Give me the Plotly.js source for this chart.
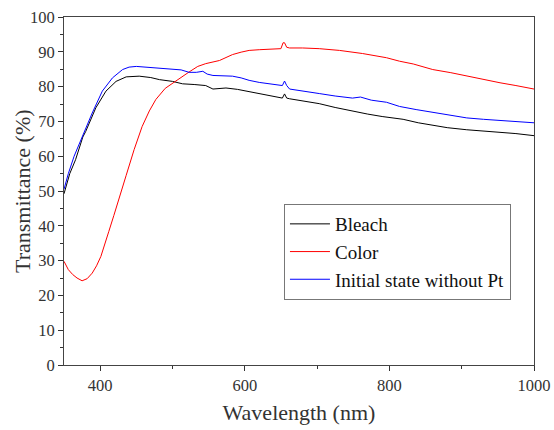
<!DOCTYPE html>
<html>
<head>
<meta charset="utf-8">
<script src="https://cdn.plot.ly/plotly-3.0.1.min.js"></script>
<style>html,body{margin:0;padding:0;background:#fff;}#chart{width:554px;height:430px;}</style>
</head>
<body>
<div id="chart"></div>
<script>
// Bleach (black)
const bleachX = [350, 358, 366, 376, 380, 394, 408, 422, 436, 454, 470, 482, 500, 514, 530, 546, 556, 574, 590, 602, 616, 630, 645, 652, 655, 658, 662, 680, 703, 725, 749, 770, 790, 819, 840, 860, 880, 907, 930, 953, 975, 1000];
const bleachY = [49.2, 55, 59, 65.5, 67.1, 73.9, 78.7, 81.5, 82.8, 83, 82.6, 82, 81.5, 80.8, 80.6, 80.3, 79.3, 79.6, 79.2, 78.7, 78, 77.4, 76.9, 76.7, 77.9, 76.7, 76.5, 75.9, 75.1, 74, 72.9, 72.1, 71.4, 70.6, 69.6, 68.8, 68.2, 67.6, 67.3, 66.9, 66.5, 65.9];

// Color (red)
const colorX = [350, 356, 362, 368, 375, 382, 389, 395, 401, 407, 412, 419, 426, 436, 447, 458, 468, 477, 490, 500, 512, 523, 535, 546, 565, 583, 595, 606, 620, 639, 650, 653, 655, 658, 662, 680, 703, 731, 763, 796, 814, 833, 860, 885, 907, 930, 953, 975, 1000];
const colorY = [29.8, 27.4, 26, 25, 24.2, 24.8, 26.4, 28.5, 31.2, 34.8, 38.4, 43, 47.5, 54.5, 61.9, 68.5, 73, 76.3, 79.5, 81, 82.8, 84.2, 85.8, 86.6, 87.5, 89.2, 89.9, 90.4, 90.6, 90.8, 90.9, 92.6, 92.6, 91.3, 91.1, 91.1, 90.9, 90.4, 89.5, 88.3, 87.3, 86.5, 84.9, 84, 83, 82.1, 81.1, 80.3, 79.3];

// Initial state without Pt (blue)
const initX = [350, 356, 364, 370, 376, 389, 403, 417, 431, 440, 450, 470, 485, 500, 512, 523, 533, 542, 548, 556, 570, 583, 595, 606, 620, 639, 652, 655, 658, 662, 680, 703, 725, 749, 760, 775, 796, 814, 837, 860, 885, 907, 930, 953, 975, 1000];
const initY = [50.5, 55, 60, 63, 65.8, 72.4, 78.7, 82.5, 84.9, 85.6, 85.8, 85.5, 85.3, 85.1, 84.8, 84.1, 84.1, 84.4, 83.6, 83.2, 83.1, 83, 82.5, 81.8, 81.2, 80.6, 80.3, 81.6, 80.3, 79.3, 78.8, 78, 77.3, 76.7, 77, 76.1, 75.5, 74.3, 73.4, 72.6, 71.8, 71, 70.6, 70.2, 69.9, 69.6];

const xTicks = [400, 600, 800, 1000];
const yTicks = [0, 10, 20, 30, 40, 50, 60, 70, 80, 90, 100];

const serif = 'Liberation Serif';

const traces = [
  {x: bleachX, y: bleachY, name: 'Bleach', mode: 'lines', line: {color: '#000000', width: 1}},
  {x: colorX, y: colorY, name: 'Color', mode: 'lines', line: {color: '#ff0000', width: 1}},
  {x: initX, y: initY, name: 'Initial state without Pt', mode: 'lines', line: {color: '#0000ff', width: 1}}
];

const layout = {
  width: 554, height: 430,
  margin: {l: 64, r: 20, t: 17, b: 65},
  paper_bgcolor: '#ffffff', plot_bgcolor: '#ffffff',
  font: {family: serif},
  showlegend: true,
  legend: {
    x: 0.468, y: 0.4626, xanchor: 'left', yanchor: 'top',
    bordercolor: '#777777', borderwidth: 1, bgcolor: '#ffffff',
    font: {family: serif, size: 19, color: '#111111'},
    itemwidth: 40
  },
  xaxis: {
    range: [350, 1000], tickvals: xTicks, ticktext: xTicks.map(String),
    ticks: 'outside', ticklen: 5, tickwidth: 1, tickcolor: '#333',
    minor: {dtick: 100, tick0: 0, ticks: 'outside', ticklen: 3, tickcolor: '#333'},
    showline: true, linecolor: '#444', linewidth: 1, mirror: true,
    showgrid: false, zeroline: false,
    tickfont: {family: serif, size: 16.5, color: '#333'},
    title: {text: 'Wavelength (nm)', font: {family: serif, size: 22, color: '#333'}, standoff: 10}
  },
  yaxis: {
    range: [0, 100], tickvals: yTicks, ticktext: yTicks.map(String),
    ticks: 'outside', ticklen: 5, tickwidth: 1, tickcolor: '#333',
    minor: {dtick: 5, tick0: 0, ticks: 'outside', ticklen: 3, tickcolor: '#333'},
    showline: true, linecolor: '#444', linewidth: 1, mirror: true,
    showgrid: false, zeroline: false,
    tickfont: {family: serif, size: 16.5, color: '#333'},
    title: {text: ''}
  },
  annotations: [{
    text: 'Transmittance (%)', xref: 'paper', yref: 'paper',
    x: -0.0894, y: 0.5, xanchor: 'center', yanchor: 'middle',
    textangle: -90, showarrow: false,
    font: {family: serif, size: 22, color: '#333'}
  }]
};

Plotly.newPlot('chart', traces, layout, {displayModeBar: false, staticPlot: true});
</script>
</body>
</html>
